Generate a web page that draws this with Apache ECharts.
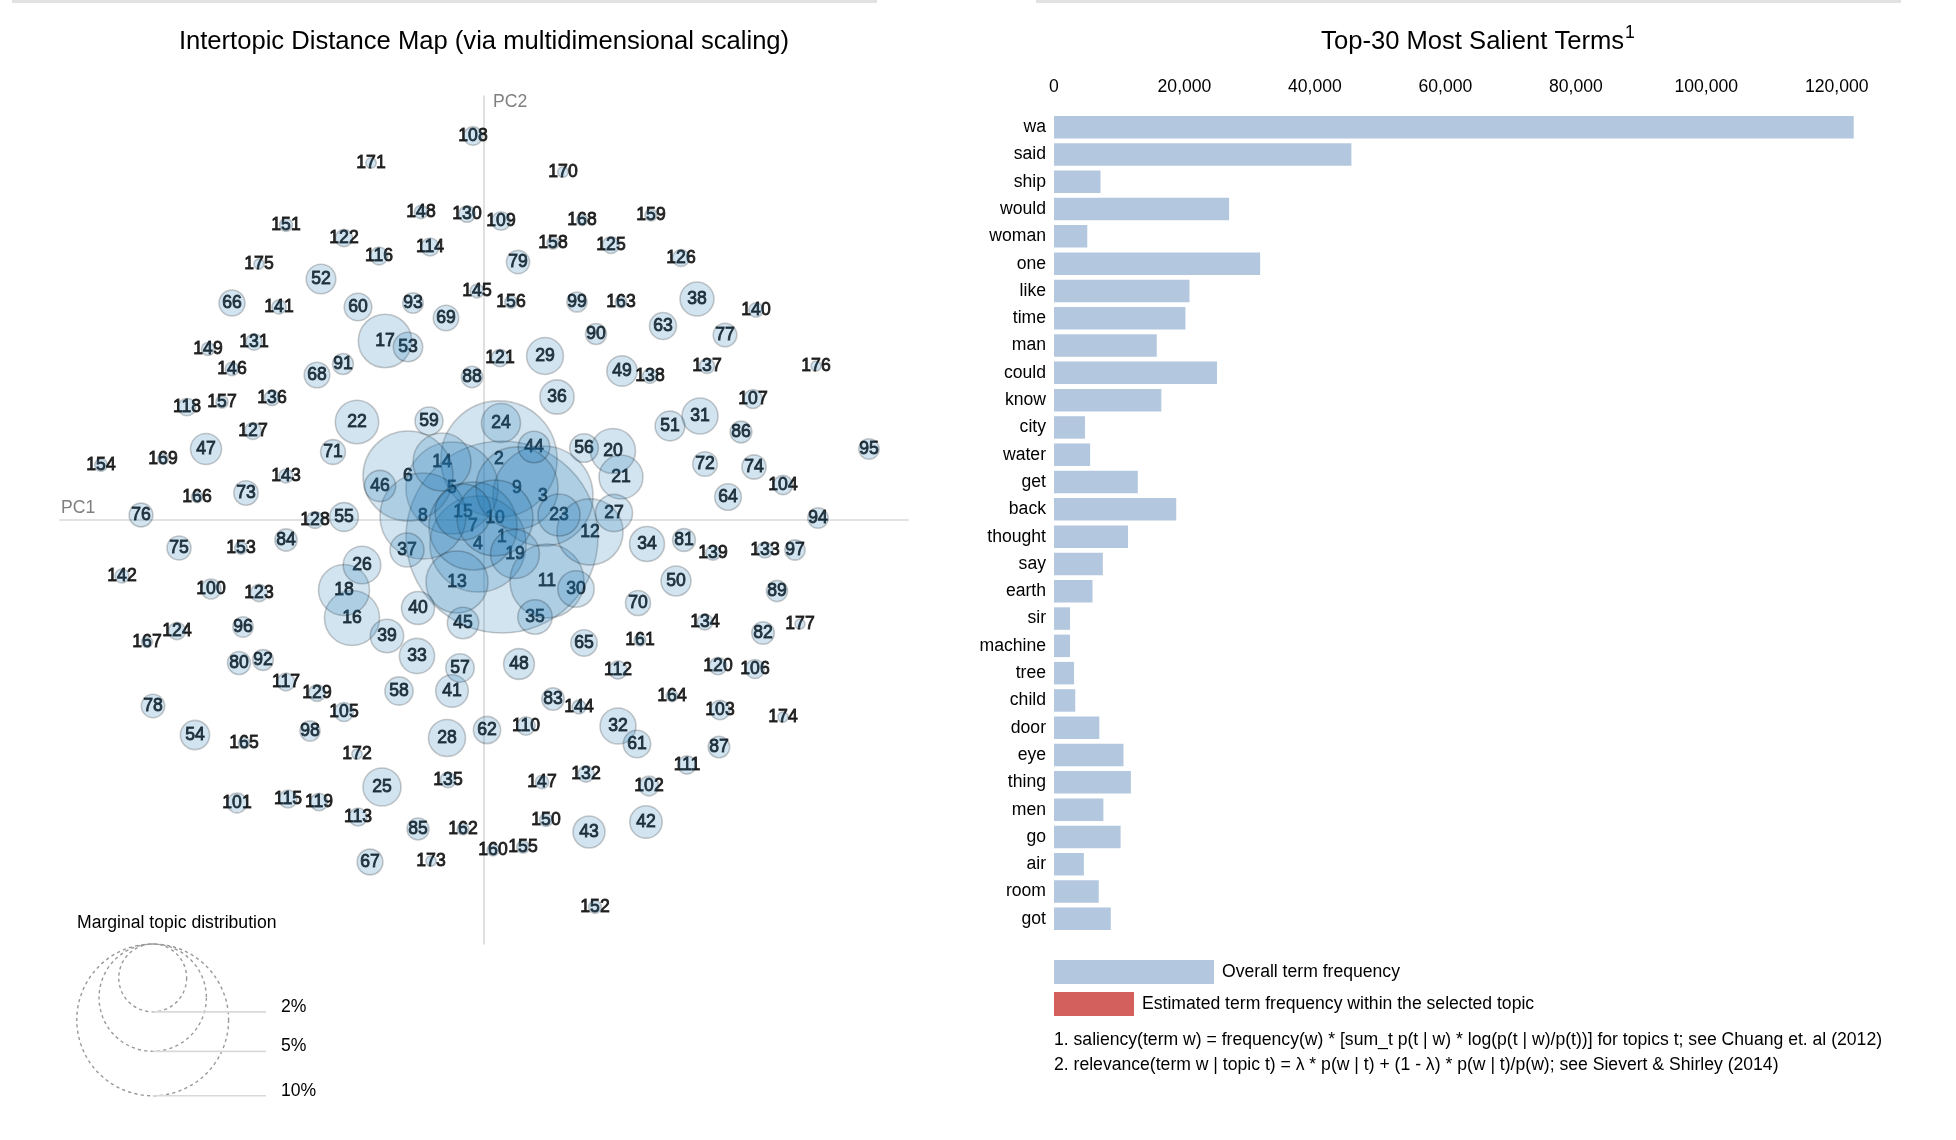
<!DOCTYPE html>
<html>
<head>
<meta charset="utf-8">
<title>LDAvis</title>
<script src="https://cdn.jsdelivr.net/npm/echarts@6/dist/echarts.min.js"></script>
<style>
html, body { margin: 0; padding: 0; background: #fff; }
#main { width: 1956px; height: 1140px; }
</style>
</head>
<body>
<div id="main"></div>
<script>
// topic ids, MDS coordinates and marginal topic distribution (%)
var topicIds = [];
for (var t = 1; t <= 177; t++) topicIds.push(t);

var pc1 = [0.018, 0.015, 0.059, -0.006, -0.032, -0.076, -0.011, -0.061, 0.033, 0.011,
	0.063, 0.106, -0.027, -0.042, -0.021, -0.132, -0.099, -0.140, 0.031, 0.129,
	0.137, -0.127, 0.075, 0.017, -0.102, -0.122, 0.130, -0.037, 0.061, 0.092,
	0.216, 0.134, -0.067, 0.163, 0.051, 0.073, -0.077, 0.213, -0.097, -0.066,
	-0.032, 0.162, 0.105, 0.050, -0.021, -0.104, -0.278, 0.035, 0.138, 0.192,
	0.186, -0.163, -0.076, -0.289, -0.140, 0.100, -0.024, -0.085, -0.055, -0.126,
	0.153, 0.003, 0.179, 0.244, 0.100, -0.252, -0.114, -0.167, -0.038, 0.154,
	-0.151, 0.221, -0.238, 0.270, -0.305, -0.343, 0.241, -0.331, 0.034, -0.245,
	0.200, 0.279, 0.069, -0.198, -0.066, 0.257, 0.235, -0.012, 0.293, 0.112,
	-0.141, -0.221, -0.071, 0.334, 0.385, -0.241, 0.311, -0.174, 0.093, -0.273,
	-0.247, 0.165, 0.236, 0.299, -0.140, 0.271, 0.269, -0.011, 0.017, 0.042,
	0.203, 0.134, -0.126, -0.054, -0.196, -0.105, -0.198, -0.297, -0.165, 0.234,
	0.016, -0.140, -0.225, -0.307, 0.127, 0.197, -0.231, -0.169, -0.167, -0.017,
	-0.230, 0.102, 0.281, 0.221, -0.036, -0.212, 0.223, 0.166, 0.229, 0.272,
	-0.205, -0.362, -0.198, 0.095, -0.007, -0.252, 0.058, -0.063, -0.276, 0.062,
	-0.198, 0.111, -0.243, -0.383, 0.039, 0.027, -0.262, 0.069, 0.167, 0.009,
	0.156, -0.021, 0.137, 0.188, -0.240, -0.287, -0.337, 0.098, -0.321, 0.079,
	-0.113, -0.127, -0.053, 0.299, -0.225, 0.332, 0.316];

var pc2 = [-0.017, 0.061, 0.024, -0.024, 0.032, 0.044, -0.006, 0.004, 0.032, 0.002,
	-0.061, -0.012, -0.062, 0.058, 0.008, -0.098, 0.179, -0.070, -0.034, 0.069,
	0.043, 0.098, 0.005, 0.097, -0.267, -0.045, 0.007, -0.218, 0.164, -0.069,
	0.104, -0.206, -0.136, -0.024, -0.097, 0.123, -0.030, 0.221, -0.116, -0.088,
	-0.171, -0.302, -0.312, 0.073, -0.103, 0.034, 0.071, -0.144, 0.149, -0.061,
	0.094, 0.241, 0.173, -0.215, 0.003, 0.072, -0.148, -0.171, 0.099, 0.213,
	-0.224, -0.210, 0.194, 0.023, -0.123, 0.217, -0.342, 0.145, 0.202, -0.083,
	0.068, 0.056, 0.027, 0.053, -0.028, 0.005, 0.185, -0.186, 0.258, -0.143,
	-0.020, -0.113, -0.179, -0.020, -0.309, 0.088, -0.227, 0.143, -0.071, 0.186,
	0.156, -0.140, 0.217, 0.002, 0.071, -0.107, -0.030, -0.211, 0.218, -0.069,
	-0.283, -0.266, -0.190, 0.035, -0.192, -0.149, 0.121, 0.384, 0.299, -0.206,
	-0.245, -0.150, -0.297, 0.273, -0.279, 0.264, -0.162, 0.113, -0.282, -0.146,
	0.162, 0.282, -0.073, -0.111, 0.275, 0.262, 0.089, 0.000, -0.173, 0.306,
	0.178, -0.254, -0.030, -0.102, -0.260, 0.122, 0.154, 0.144, -0.033, 0.210,
	0.213, -0.056, 0.044, -0.187, 0.229, 0.151, -0.262, 0.308, 0.171, -0.300,
	0.295, -0.387, -0.028, 0.055, -0.327, 0.218, 0.118, 0.277, 0.305, -0.330,
	-0.120, -0.309, 0.218, -0.176, -0.223, 0.023, -0.122, 0.300, 0.061, 0.348,
	0.357, -0.234, -0.341, -0.197, 0.256, 0.154, -0.104];

var topicFreq = [16.0, 5.86, 4.35, 4.00, 3.68, 3.52, 3.37, 3.22, 2.93, 2.51,
	2.38, 1.90, 1.67, 1.46, 1.36, 1.32, 1.24, 1.13, 1.04, 0.88,
	0.84, 0.82, 0.77, 0.66, 0.63, 0.615, 0.60, 0.596, 0.59, 0.577,
	0.564, 0.562, 0.539, 0.533, 0.515, 0.509, 0.503, 0.500, 0.485, 0.474,
	0.462, 0.457, 0.446, 0.434, 0.429, 0.424, 0.418, 0.413, 0.402, 0.392,
	0.386, 0.381, 0.376, 0.371, 0.361, 0.356, 0.351, 0.346, 0.341, 0.331,
	0.327, 0.322, 0.317, 0.308, 0.303, 0.294, 0.290, 0.285, 0.281, 0.272,
	0.268, 0.263, 0.259, 0.255, 0.251, 0.246, 0.242, 0.238, 0.234, 0.230,
	0.226, 0.222, 0.218, 0.214, 0.210, 0.206, 0.202, 0.198, 0.195, 0.191,
	0.189, 0.187, 0.185, 0.183, 0.182, 0.180, 0.179, 0.177, 0.176, 0.174,
	0.171, 0.168, 0.165, 0.162, 0.159, 0.157, 0.155, 0.152, 0.150, 0.147,
	0.146, 0.144, 0.142, 0.141, 0.139, 0.138, 0.136, 0.135, 0.133, 0.132,
	0.131, 0.130, 0.129, 0.128, 0.127, 0.126, 0.124, 0.123, 0.121, 0.120,
	0.117, 0.114, 0.111, 0.108, 0.105, 0.102, 0.099, 0.096, 0.093, 0.090,
	0.088, 0.086, 0.085, 0.083, 0.081, 0.080, 0.078, 0.077, 0.075, 0.074,
	0.073, 0.072, 0.071, 0.070, 0.068, 0.067, 0.066, 0.065, 0.064, 0.063,
	0.061, 0.060, 0.058, 0.057, 0.056, 0.054, 0.053, 0.052, 0.050, 0.049,
	0.048, 0.047, 0.047, 0.046, 0.045, 0.044, 0.044];

// top-30 salient terms and their overall frequency
var terms = ['wa', 'said', 'ship', 'would', 'woman', 'one', 'like', 'time', 'man', 'could',
	'know', 'city', 'water', 'get', 'back', 'thought', 'say', 'earth', 'sir', 'machine',
	'tree', 'child', 'door', 'eye', 'thing', 'men', 'go', 'air', 'room', 'got'];
var termTotals = [122600, 45590, 7130, 26840, 5100, 31600, 20770, 20150, 15750, 24990,
	16460, 4750, 5540, 12850, 18740, 11350, 7480, 5900, 2460, 2460,
	3080, 3260, 6950, 10650, 11790, 7570, 10210, 4580, 6860, 8710];

var sizeLegend = [2, 5, 10]; // % for the marginal distribution guide
var footnotes = [
	'1. saliency(term w) = frequency(w) * [sum_t p(t | w) * log(p(t | w)/p(t))] for topics t; see Chuang et. al (2012)',
	'2. relevance(term w | topic t) = \u03bb * p(w | t) + (1 - \u03bb) * p(w | t)/p(w); see Sievert & Shirley (2014)'
];

var fontFam = '"Liberation Sans", Arial, Helvetica, sans-serif';
var blue = '#1f77b4';
var barBlue = '#b3c8df';
var red = '#d3605c';

// radius scale: sqrt, largest topic -> 96px
var maxFreq = Math.max.apply(null, topicFreq);
function rScale(p) {
	return 96 * Math.sqrt(p / maxFreq);
}

var textData = [];
var circleData = [];
for (var i = 0; i < topicIds.length; i++) {
	textData.push([pc1[i], pc2[i], topicIds[i]]);
	circleData.push([pc1[i], pc2[i], topicFreq[i]]);
}

var myChart = echarts.init(document.getElementById('main'), null, { renderer: 'canvas' });

// size guide of the MDS panel
var mdsBottom = 944;
var guideX = 152.7;
var guideEls = [{
	type: 'text',
	style: { text: 'Marginal topic distribution', x: 77, y: 923, fill: '#000', fontSize: 17.6, fontFamily: fontFam, textVerticalAlign: 'middle' }
}];
for (var k = sizeLegend.length - 1; k >= 0; k--) {
	var r = rScale(sizeLegend[k]);
	guideEls.push({
		type: 'circle',
		shape: { cx: guideX, cy: mdsBottom + r, r: r },
		style: { fill: 'none', stroke: '#999', lineWidth: 1.4, lineDash: [3.2, 3.2] }
	});
	guideEls.push({
		type: 'line',
		shape: { x1: guideX, y1: mdsBottom + 2 * r, x2: 266, y2: mdsBottom + 2 * r },
		style: { stroke: '#d9d9d9', lineWidth: 1.6 }
	});
	guideEls.push({
		type: 'text',
		style: { text: sizeLegend[k] + '%', x: 281, y: mdsBottom + 2 * r - 5, fill: '#000', fontSize: 17.6, fontFamily: fontFam, textVerticalAlign: 'middle' }
	});
}

var otherEls = [
	{ type: 'rect', shape: { x: 12, y: 0, width: 865, height: 3 }, style: { fill: '#e2e2e2' } },
	{ type: 'rect', shape: { x: 1036, y: 0, width: 865, height: 3 }, style: { fill: '#e2e2e2' } },
	{
		type: 'text',
		style: { text: 'Intertopic Distance Map (via multidimensional scaling)', x: 484, y: 41.5, fill: '#000', fontSize: 25.6, fontFamily: fontFam, textAlign: 'center', textVerticalAlign: 'middle' }
	},
	{
		type: 'text',
		style: {
			text: '{a|Top-30 Most Salient Terms}{b|1}', x: 1478, y: 41.5, textAlign: 'center', textVerticalAlign: 'middle',
			rich: {
				a: { fontSize: 25.6, fontFamily: fontFam, fill: '#000' },
				b: { fontSize: 17.6, fontFamily: fontFam, fill: '#000', verticalAlign: 'top', padding: [0, 0, 16, 1] }
			}
		}
	},
	{ type: 'text', style: { text: 'PC1', x: 61, y: 508, fill: '#808080', fontSize: 17.6, fontFamily: fontFam, textVerticalAlign: 'middle' } },
	{ type: 'text', style: { text: 'PC2', x: 493, y: 102, fill: '#808080', fontSize: 17.6, fontFamily: fontFam, textVerticalAlign: 'middle' } },
	// bar legend
	{ type: 'rect', shape: { x: 1054, y: 960, width: 160, height: 24 }, style: { fill: barBlue } },
	{ type: 'text', style: { text: 'Overall term frequency', x: 1222, y: 972.5, fill: '#000', fontSize: 17.6, fontFamily: fontFam, textVerticalAlign: 'middle' } },
	{ type: 'rect', shape: { x: 1054, y: 992, width: 80, height: 24 }, style: { fill: red } },
	{ type: 'text', style: { text: 'Estimated term frequency within the selected topic', x: 1142, y: 1004.5, fill: '#000', fontSize: 17.6, fontFamily: fontFam, textVerticalAlign: 'middle' } },
	{ type: 'text', style: { text: footnotes[0], x: 1054, y: 1040, fill: '#000', fontSize: 17.6, fontFamily: fontFam, textVerticalAlign: 'middle' } },
	{ type: 'text', style: { text: footnotes[1], x: 1054, y: 1065, fill: '#000', fontSize: 17.6, fontFamily: fontFam, textVerticalAlign: 'middle' } }
];

var option = {
	animation: false,
	backgroundColor: '#fff',
	textStyle: { fontFamily: fontFam },
	grid: [{
		left: 60, top: 96, width: 848, height: 848, outerBoundsMode: 'none', containLabel: false
	}, {
		left: 1054, top: 113.5, width: 848, height: 819, outerBoundsMode: 'none', containLabel: false
	}],
	xAxis: [{
		type: 'value', gridIndex: 0, min: -0.424, max: 0.424,
		axisLine: { show: true, onZero: true, lineStyle: { color: '#d9d9d9', width: 1.6 } },
		axisTick: { show: false }, axisLabel: { show: false }, splitLine: { show: false }
	}, {
		type: 'value', gridIndex: 1, position: 'top', min: 0, max: 130000, interval: 20000,
		axisLine: { show: false }, axisTick: { show: false }, splitLine: { show: false },
		axisLabel: {
			show: true, margin: 17.5, color: '#000', fontSize: 17.6, fontFamily: fontFam,
			showMaxLabel: false,
			formatter: function(v) {
				return v.toString().replace(/\B(?=(\d{3})+(?!\d))/g, ',');
			}
		}
	}],
	yAxis: [{
		type: 'value', gridIndex: 0, min: -0.424, max: 0.424,
		axisLine: { show: true, onZero: true, lineStyle: { color: '#d9d9d9', width: 1.6 } },
		axisTick: { show: false }, axisLabel: { show: false }, splitLine: { show: false }
	}, {
		type: 'category', gridIndex: 1, data: terms, inverse: true,
		axisLine: { show: false }, axisTick: { show: false }, splitLine: { show: false },
		axisLabel: { margin: 8, color: '#000', fontSize: 17.6, fontFamily: fontFam }
	}],
	series: [{
		// topic numbers sit underneath all circles, like the d3 original
		name: 'labels',
		type: 'scatter',
		xAxisIndex: 0,
		yAxisIndex: 0,
		z: 2,
		silent: true,
		symbolSize: 1,
		itemStyle: { color: 'rgba(0,0,0,0)' },
		label: {
			show: true,
			position: 'inside',
			formatter: function(p) { return p.value[2]; },
			color: '#000',
			fontSize: 17.6,
			fontFamily: fontFam,
			textBorderColor: '#000',
			textBorderWidth: 0.9
		},
		data: textData
	}, {
		name: 'topics',
		type: 'scatter',
		xAxisIndex: 0,
		yAxisIndex: 0,
		z: 3,
		silent: true,
		symbolSize: function(val) { return 2 * rScale(val[2]); },
		itemStyle: { color: blue, borderColor: '#000', borderWidth: 1.6, opacity: 0.2 },
		data: circleData
	}, {
		name: 'Overall term frequency',
		type: 'bar',
		xAxisIndex: 1,
		yAxisIndex: 1,
		barCategoryGap: '17.6%',
		silent: true,
		itemStyle: { color: barBlue },
		data: termTotals
	}],
	graphic: { elements: otherEls.concat(guideEls) }
};
myChart.setOption(option);
</script>
</body>
</html>
